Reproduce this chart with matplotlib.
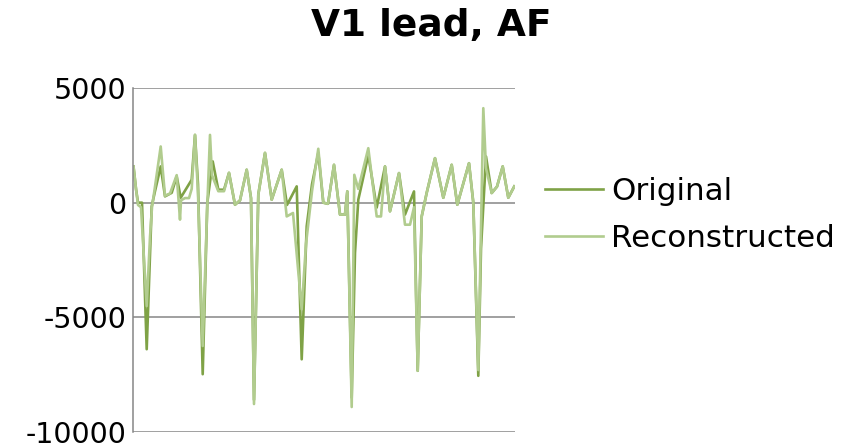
import matplotlib
matplotlib.use("Agg")
import matplotlib.pyplot as plt

# ---- data (sample position, amplitude) ----
orig_t = [0.5, 3, 5, 9, 13.7, 18.7, 22, 27.7, 32, 38.7, 43.7, 47.7, 58.7, 62, 65,
          69.7, 74.3, 79.7, 85.3, 91, 96, 102, 107, 113.7, 118, 121, 125.3, 132,
          138.7, 148.7, 154, 163.7, 168.7, 173.7, 179, 185.3, 190.3, 195, 201,
          207, 212, 214.3, 218.7, 222, 225.3, 235.3, 243.7, 252, 257, 266, 272,
          281, 284.7, 288.7, 293.7, 302, 310.3, 318.7, 324.3, 336, 340.3, 345.3,
          348, 353, 358.7, 364, 369.7, 375.3, 381.3]
orig_v = [1580, 600, 0, 0, -6390, -160, 500, 1580, 275, 430, 1145, 215, 1000, 2955,
          800, -7480, 0, 1800, 565, 565, 1300, -90, 100, 1435, 200, -8600, 350, 2170,
          130, 1435, -100, 710, -6830, -1030, 800, 2170, 0, -50, 1650, -520, -520,
          490, -8500, -2190, 130, 2080, -215, 1580, -375, 1290, -520, 490, -7330,
          -600, 430, 1940, 215, 1650, -90, 1720, 0, -7550, -2000, 2015, 420, 700,
          1580, 215, 710]

rec_t = [0.5, 3, 5, 8, 13.7, 17, 19, 22, 27.7, 32, 37, 43.7, 47, 48, 52, 56, 58.7,
         62, 65, 69.7, 74, 77, 79, 85.3, 91, 96, 102, 107, 113.7, 118, 121, 125.3,
         132, 138.7, 148.7, 153.7, 160, 168.7, 173, 179, 185.3, 190.3, 195, 201,
         207, 212, 214.3, 218.7, 221.3, 225.3, 235.3, 243.7, 248, 252, 257, 266,
         272, 277, 281, 284.7, 288.7, 293.7, 302, 310.3, 318.7, 324.3, 336, 340.3,
         345.3, 350.3, 353, 358.7, 364, 369.7, 375.3, 381.3]
rec_v = [1580, 600, -100, -200, -4510, -1500, -200, 700, 2450, 300, 400, 1200, -740,
         100, 200, 200, 600, 2955, 400, -6250, -500, 2955, 1200, 500, 500, 1300, -90,
         100, 1435, 200, -8780, 350, 2170, 130, 1435, -600, -450, -4650, -1800, 500,
         2350, 0, -50, 1650, -520, -520, 490, -8910, 1215, 600, 2375, -600, -600,
         1580, -375, 1290, -960, -960, -200, -7330, -600, 430, 1940, 215, 1650, -90,
         1720, 0, -7300, 4120, 1500, 420, 700, 1580, 215, 710]

y_ticks = [-10000, -5000, 0, 5000]
title = "V1 lead, AF"
labels = ["Original", "Reconstructed"]
colors = ["#7fa246", "#b1cc8e"]

# ---- figure ----
W, H = 846, 447
fig = plt.figure(figsize=(W / 100, H / 100), dpi=100)
ax = fig.add_axes([133 / W, 1 - 432 / H, (515 - 133) / W, (432 - 88) / H])

ax.plot(orig_t, orig_v, color=colors[0], lw=1.9, label=labels[0],
        solid_joinstyle="round")
ax.plot(rec_t, rec_v, color=colors[1], lw=1.9, label=labels[1],
        solid_joinstyle="round")

ax.set_xlim(0, 382)
ax.set_ylim(-10000, 5000)
ax.set_yticks(y_ticks)
ax.set_yticklabels([str(v) for v in y_ticks])
ax.set_xticks([])
ax.tick_params(axis="y", length=0, pad=5, labelsize=20.5)
ax.grid(axis="y", color="#868686", lw=1.1)
ax.set_axisbelow(True)
for s in ["top", "right", "bottom"]:
    ax.spines[s].set_visible(False)
ax.spines["left"].set_color("#868686")
ax.spines["left"].set_linewidth(1.1)

fig.text(431 / W, 1 - 26 / H, title, ha="center", va="center",
         fontsize=27, fontweight="bold")

fig.legend(loc="center left", bbox_to_anchor=(533 / W, 1 - 215 / H),
           frameon=False, fontsize=22.3, handlelength=1.85,
           handletextpad=0.28, labelspacing=0.58, borderaxespad=0)

fig.savefig("out.png", dpi=100)
